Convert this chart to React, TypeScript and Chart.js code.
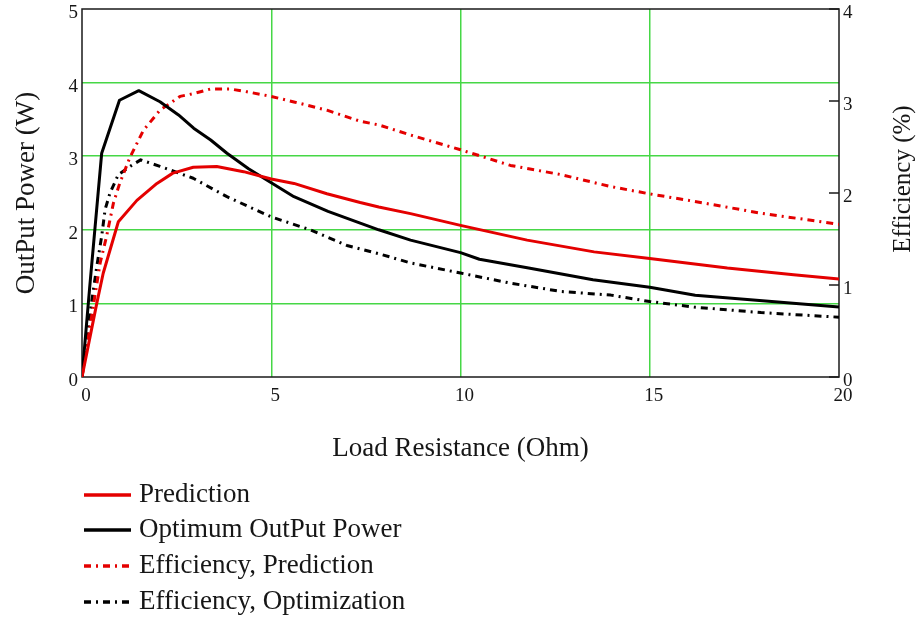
import React, { useEffect, useRef } from "react";
import { Chart, registerables } from "chart.js";

Chart.register(...registerables);

// Optimum OutPut Power (W) – left axis
const optX = [0, 0.2, 0.52, 0.99, 1.5, 2.06, 2.55, 2.95, 3.4, 3.83, 4.4, 5.0, 5.6, 6.5, 7.35, 7.84, 8.68, 10, 10.5, 11.8, 13.5, 15, 16.2, 17.9, 20];
const optY = [0, 1.2, 3.04, 3.76, 3.89, 3.74, 3.56, 3.38, 3.22, 3.04, 2.83, 2.64, 2.45, 2.25, 2.09, 2.0, 1.86, 1.69, 1.6, 1.48, 1.32, 1.22, 1.11, 1.04, 0.95];

// Prediction (W) – left axis
const predX = [0, 0.39, 0.56, 0.96, 1.45, 1.98, 2.4, 2.94, 3.56, 4.27, 5.0, 5.6, 6.47, 7.35, 7.84, 8.68, 10, 11.76, 13.53, 15, 17.05, 18.8, 20];
const predY = [0, 1.0, 1.41, 2.11, 2.4, 2.63, 2.77, 2.85, 2.86, 2.79, 2.69, 2.63, 2.49, 2.37, 2.31, 2.22, 2.06, 1.86, 1.7, 1.61, 1.48, 1.39, 1.33];

// Efficiency, Prediction (%) – right axis
const effPredX = [0, 0.48, 0.65, 0.83, 1.0, 1.27, 1.62, 2.06, 2.59, 2.94, 3.39, 3.92, 4.36, 5.0, 5.6, 6.47, 7.35, 7.84, 8.68, 10, 11.32, 12.65, 13.97, 15, 16.17, 17.94, 20];
const effPredY = [0, 1.24, 1.53, 1.89, 2.11, 2.39, 2.68, 2.9, 3.05, 3.08, 3.13, 3.13, 3.1, 3.05, 2.99, 2.9, 2.78, 2.74, 2.63, 2.47, 2.3, 2.2, 2.07, 1.99, 1.91, 1.78, 1.66];

// Efficiency, Optimization (%) – right axis
const effOptX = [0, 0.21, 0.39, 0.52, 0.61, 0.74, 0.96, 1.31, 1.55, 2.06, 2.94, 3.83, 5.0, 6.03, 7.0, 7.84, 8.68, 10, 11.32, 12.65, 13.97, 15, 16.17, 17.94, 20];
const effOptY = [0, 0.69, 1.2, 1.53, 1.82, 2.0, 2.2, 2.3, 2.36, 2.29, 2.16, 1.96, 1.74, 1.6, 1.43, 1.34, 1.24, 1.13, 1.02, 0.93, 0.89, 0.82, 0.76, 0.7, 0.65];

const seriesLabels = ["Prediction", "Optimum OutPut Power", "Efficiency, Prediction", "Efficiency, Optimization"];
const xTitle = "Load Resistance (Ohm)";
const yLeftTitle = "OutPut Power (W)";
const yRightTitle = "Efficiency (%)";

const RED = "rgb(228,0,0)";
const BLACK = "#000000";
const GREEN = "rgb(70,215,70)";
const TEXT = "#161616";
const FONT = "'Liberation Serif', 'Times New Roman', serif";
const DASHDOT = [7, 5, 2, 5];

const pts = (xs: number[], ys: number[]) => xs.map((x, i) => ({ x, y: ys[i] }));

const framePlugin = {
  id: "frame",
  beforeDatasetsDraw(chart: any) {
    const { ctx, chartArea } = chart;
    const { left, right, top, bottom } = chartArea;
    ctx.save();
    ctx.strokeStyle = "#1a1a1a";
    ctx.lineWidth = 1.5;
    ctx.strokeRect(left, top, right - left, bottom - top);
    // inward tick marks on right axis
    const y2 = chart.scales.y2;
    y2.ticks.forEach((t: any) => {
      const py = y2.getPixelForValue(t.value);
      ctx.beginPath();
      ctx.moveTo(right - 10, py);
      ctx.lineTo(right, py);
      ctx.stroke();
    });
    ctx.restore();
  },
  afterDraw(chart: any) {
    const { ctx } = chart;
    ctx.save();
    // right axis title, reading bottom-to-top
    ctx.fillStyle = TEXT;
    ctx.font = `25px ${FONT}`;
    ctx.textAlign = "center";
    ctx.textBaseline = "middle";
    ctx.translate(903, 179);
    ctx.rotate(-Math.PI / 2);
    ctx.fillText(yRightTitle, 0, 0);
    ctx.restore();

    // legend
    ctx.save();
    const rows = [495, 530, 566, 602];
    chart.data.datasets.forEach((ds: any, i: number) => {
      const y = rows[i];
      ctx.strokeStyle = ds.borderColor;
      ctx.lineWidth = 3.5;
      ctx.setLineDash(ds.borderDash || []);
      ctx.beginPath();
      ctx.moveTo(84, y);
      ctx.lineTo(131, y);
      ctx.stroke();
      ctx.setLineDash([]);
      ctx.fillStyle = TEXT;
      ctx.font = `27px ${FONT}`;
      ctx.textAlign = "left";
      ctx.textBaseline = "middle";
      ctx.fillText(ds.label, 139, y);
    });
    ctx.restore();
  },
};

export default function App() {
  const ref = useRef<HTMLCanvasElement | null>(null);

  useEffect(() => {
    if (!ref.current) return;
    const gridColor = (c: any) => {
      const v = c.tick ? c.tick.value : null;
      return v === c.scale.min || v === c.scale.max ? "rgba(0,0,0,0)" : GREEN;
    };
    const noPad = (s: any) => {
      s.paddingTop = 0;
      s.paddingBottom = 0;
      s.paddingLeft = 0;
      s.paddingRight = 0;
    };
    const chart = new Chart(ref.current, {
      type: "line",
      data: {
        datasets: [
          {
            label: seriesLabels[0],
            data: pts(predX, predY),
            borderColor: RED,
            borderWidth: 3,
            pointRadius: 0,
            yAxisID: "y",
          },
          {
            label: seriesLabels[1],
            data: pts(optX, optY),
            borderColor: BLACK,
            borderWidth: 3,
            pointRadius: 0,
            yAxisID: "y",
          },
          {
            label: seriesLabels[2],
            data: pts(effPredX, effPredY),
            borderColor: RED,
            borderWidth: 3,
            borderDash: DASHDOT,
            pointRadius: 0,
            yAxisID: "y2",
          },
          {
            label: seriesLabels[3],
            data: pts(effOptX, effOptY),
            borderColor: BLACK,
            borderWidth: 3,
            borderDash: DASHDOT,
            pointRadius: 0,
            yAxisID: "y2",
          },
        ],
      },
      options: {
        animation: false,
        responsive: true,
        maintainAspectRatio: false,
        layout: { padding: { top: 9, bottom: 151, left: 0, right: 0 } },
        plugins: { legend: { display: false }, tooltip: { enabled: false } },
        elements: { line: { tension: 0, borderCapStyle: "butt", borderJoinStyle: "round" } },
        scales: {
          x: {
            type: "linear",
            min: 0,
            max: 20,
            ticks: { stepSize: 5, font: { family: FONT, size: 19 }, color: TEXT, padding: 8, labelOffset: 4, maxRotation: 0 },
            grid: { color: gridColor, lineWidth: 1.5, drawTicks: false },
            border: { display: false },
            title: {
              display: true,
              text: xTitle,
              font: { family: FONT, size: 27 },
              color: TEXT,
              padding: { top: 0, bottom: 5 },
            },
            afterFit: (s: any) => {
              noPad(s);
              s.height = 93;
            },
          },
          y: {
            position: "left",
            min: 0,
            max: 5,
            ticks: { stepSize: 1, font: { family: FONT, size: 19 }, color: TEXT, padding: 4, labelOffset: 4 },
            grid: { color: gridColor, lineWidth: 1.5, drawTicks: false },
            border: { display: false },
            title: {
              display: true,
              text: yLeftTitle,
              font: { family: FONT, size: 27 },
              color: TEXT,
              padding: { top: 11, bottom: 0 },
            },
            afterFit: (s: any) => {
              noPad(s);
              s.width = 82;
            },
          },
          y2: {
            position: "right",
            min: 0,
            max: 4,
            ticks: { stepSize: 1, font: { family: FONT, size: 19 }, color: TEXT, padding: 4, labelOffset: 4 },
            grid: { display: false, drawOnChartArea: false, drawTicks: false },
            border: { display: false },
            afterFit: (s: any) => {
              noPad(s);
              s.width = 78;
            },
          },
        },
      } as any,
      plugins: [framePlugin],
    });
    return () => chart.destroy();
  }, []);

  return (
    <div style={{ position: "fixed", left: 0, top: 0, width: "100vw", height: "100vh", background: "#fff" }}>
      <canvas ref={ref} />
    </div>
  );
}
